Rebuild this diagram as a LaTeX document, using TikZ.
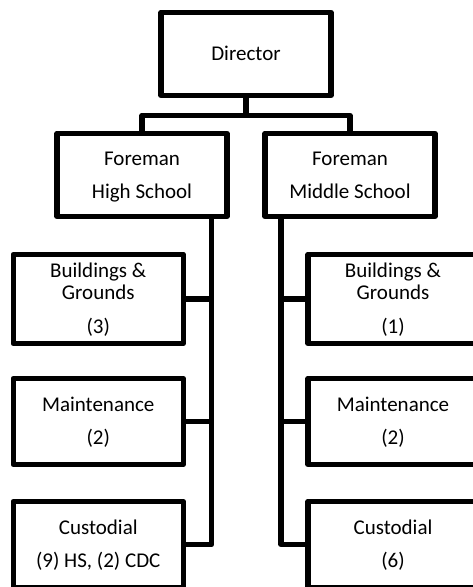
\documentclass[tikz,border=0pt]{standalone}
\usepackage{fontspec}
\setmainfont{Carlito}
\usetikzlibrary{calc}
\begin{document}
\begin{tikzpicture}[x=0.75pt,y=-0.75pt,
  box/.style={draw=black,line width=4.1pt,line join=round,rectangle,outer sep=0pt,inner sep=0pt,
    minimum width=170*0.75pt,minimum height=84*0.75pt,align=center,
    font=\fontsize{15.75pt}{24.75pt}\selectfont},
  link/.style={draw=black,line width=4.1pt,line join=round}]
\useasboundingbox (0,0) rectangle (473,587);
\clip (0,0) rectangle (473,587);
\node[box,minimum height=83*0.75pt] (dir) at (246,54) {\strut Director};
\node[box,minimum height=83*0.75pt] (hs) at (142,175) {\strut Foreman\\\strut High School};
\node[box,minimum height=83*0.75pt] (ms) at (350,175) {\strut Foreman\\\strut Middle School};
\node[box,minimum height=85*0.75pt] (b1) at (98.25,299) {\strut Buildings \&\\[-8.25pt]\strut Grounds\\[0.75pt]\strut (3)};
\node[box,minimum height=86*0.75pt] (m1) at (98.25,421.5) {\strut Maintenance\\\strut (2)};
\node[box,minimum height=86*0.75pt] (c1) at (98.25,544.5) {\strut Custodial\\\strut (9) HS, (2) CDC};
\node[box,minimum height=85*0.75pt] (b2) at (393,299) {\strut Buildings \&\\[-8.25pt]\strut Grounds\\[0.75pt]\strut (1)};
\node[box,minimum height=86*0.75pt] (m2) at (393,421.5) {\strut Maintenance\\\strut (2)};
\node[box,minimum height=86*0.75pt] (c2) at (393,544.5) {\strut Custodial\\\strut (6)};
\coordinate (bar) at (246,115.5);
\draw[link] (dir.south) -- (bar);
\draw[link] (hs.north) -- (hs.north |- bar) -- (ms.north |- bar) -- (ms.north);
\coordinate (sl) at ($(hs.south east)+(-15.5,0)$);
\coordinate (sr) at ($(ms.south west)+(16,0)$);
\draw[link] (sl) |- (c1.east);
\draw[link] (b1.east) -- (b1.east -| sl);
\draw[link] (m1.east) -- (m1.east -| sl);
\draw[link] (sr) |- (c2.west);
\draw[link] (b2.west) -- (b2.west -| sr);
\draw[link] (m2.west) -- (m2.west -| sr);
\end{tikzpicture}
\end{document}
